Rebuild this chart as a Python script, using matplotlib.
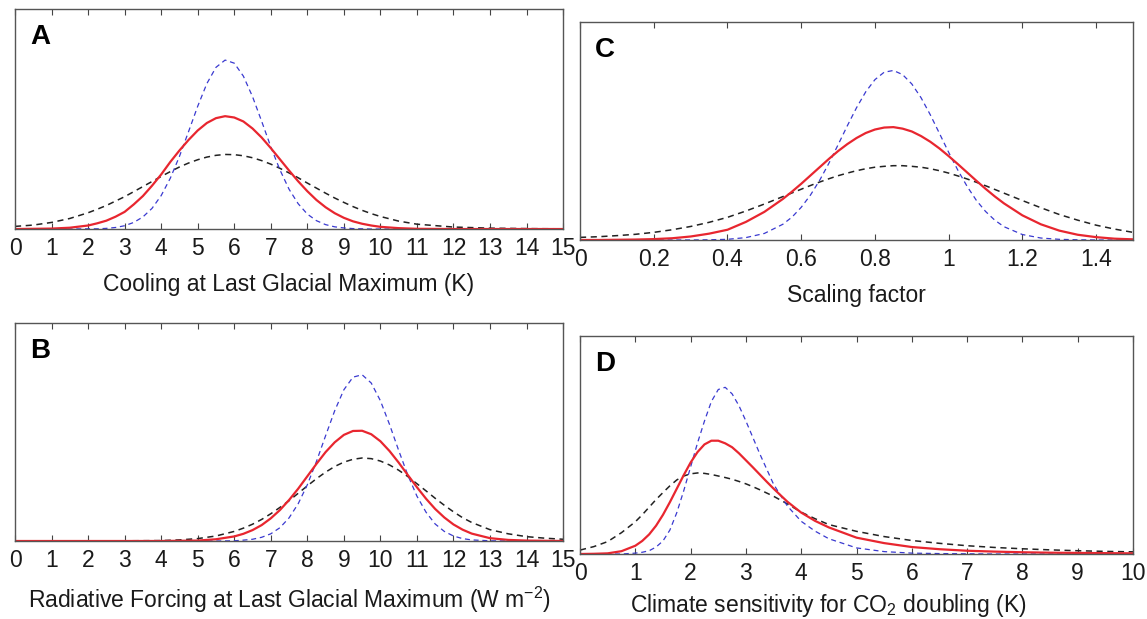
import matplotlib
matplotlib.use("Agg")
import matplotlib.pyplot as plt

plt.rcParams['font.family'] = ['Liberation Sans', 'DejaVu Sans']
plt.rcParams['mathtext.fontset'] = 'custom'
plt.rcParams['mathtext.rm'] = 'Liberation Sans'
plt.rcParams['mathtext.it'] = 'Liberation Sans:italic'

# Panel A: cooling at LGM (K)
xa = [0, 0.5, 1, 1.5, 2, 2.25, 2.5, 2.75, 3, 3.25, 3.5, 3.75, 4, 4.25, 4.5, 4.75, 5, 5.25,
      5.5, 5.75, 6, 6.25, 6.5, 6.75, 7, 7.25, 7.5, 7.75, 8, 8.25, 8.5, 8.75, 9, 9.25, 9.5,
      9.75, 10, 10.5, 11, 12, 13, 14, 15]
blue_a = [0, 0, 0, 0, 0.001, 0.001, 0.003, 0.007, 0.015, 0.030, 0.055, 0.094, 0.152, 0.231,
          0.330, 0.443, 0.558, 0.661, 0.735, 0.768, 0.754, 0.695, 0.602, 0.490, 0.374, 0.269,
          0.181, 0.115, 0.068, 0.038, 0.020, 0.010, 0.005, 0.002, 0.001, 0, 0, 0, 0, 0, 0,
          0, 0]
red_a = [0, 0.001, 0.002, 0.006, 0.016, 0.026, 0.038, 0.056, 0.078, 0.112, 0.150, 0.197,
         0.248, 0.305, 0.357, 0.405, 0.448, 0.482, 0.504, 0.513, 0.507, 0.489, 0.457, 0.416,
         0.368, 0.317, 0.266, 0.217, 0.172, 0.132, 0.099, 0.072, 0.051, 0.035, 0.024, 0.016,
         0.010, 0.004, 0.001, 0, 0, 0, 0]
black_a = [0.012, 0.018, 0.030, 0.048, 0.074, 0.090, 0.107, 0.127, 0.147, 0.170, 0.193, 0.216,
           0.239, 0.261, 0.282, 0.300, 0.315, 0.327, 0.335, 0.339, 0.338, 0.333, 0.324, 0.311,
           0.295, 0.276, 0.255, 0.233, 0.209, 0.186, 0.163, 0.141, 0.121, 0.102, 0.085, 0.070,
           0.057, 0.036, 0.022, 0.009, 0.004, 0.002, 0.001]

# Panel B: radiative forcing at LGM (W m-2)
xb = [0, 1, 2, 3, 4, 4.5, 5, 5.5, 6, 6.25, 6.5, 6.75, 7, 7.25, 7.5, 7.75, 8, 8.25, 8.5, 8.75,
      9, 9.25, 9.5, 9.75, 10, 10.25, 10.5, 10.75, 11, 11.25, 11.5, 11.75, 12, 12.25, 12.5,
      13, 13.5, 14, 14.5, 15]
blue_b = [0, 0, 0, 0, 0, 0, 0, 0, 0.001, 0.004, 0.008, 0.017, 0.033, 0.061, 0.106, 0.171,
          0.258, 0.365, 0.483, 0.598, 0.694, 0.752, 0.763, 0.725, 0.644, 0.535, 0.416, 0.303,
          0.206, 0.132, 0.078, 0.044, 0.023, 0.011, 0.005, 0.001, 0, 0, 0, 0]
red_b = [0, 0, 0, 0, 0, 0.001, 0.002, 0.008, 0.021, 0.033, 0.050, 0.073, 0.104, 0.142, 0.188,
         0.240, 0.297, 0.354, 0.408, 0.453, 0.487, 0.505, 0.506, 0.490, 0.458, 0.413, 0.360,
         0.303, 0.247, 0.194, 0.147, 0.108, 0.076, 0.052, 0.034, 0.013, 0.005, 0.002, 0.001, 0]
black_b = [0, 0, 0, 0.001, 0.002, 0.005, 0.011, 0.023, 0.044, 0.059, 0.077, 0.099, 0.125,
           0.154, 0.185, 0.219, 0.253, 0.286, 0.316, 0.342, 0.362, 0.375, 0.381, 0.378, 0.367,
           0.349, 0.325, 0.296, 0.263, 0.230, 0.196, 0.164, 0.134, 0.107, 0.085, 0.052, 0.033,
           0.020, 0.013, 0.008]

# Panel C: scaling factor
xc = [0, 0.05, 0.1, 0.15, 0.2, 0.25, 0.3, 0.35, 0.4, 0.45, 0.5, 0.55, 0.575, 0.6, 0.625, 0.65,
      0.675, 0.7, 0.725, 0.75, 0.775, 0.8, 0.825, 0.85, 0.875, 0.9, 0.925, 0.95, 0.975, 1.0,
      1.025, 1.05, 1.075, 1.1, 1.125, 1.15, 1.2, 1.25, 1.3, 1.35, 1.4, 1.45, 1.5]
blue_c = [0, 0, 0, 0, 0, 0, 0, 0.001, 0.003, 0.011, 0.030, 0.072, 0.105, 0.150, 0.206, 0.274,
          0.352, 0.437, 0.524, 0.607, 0.680, 0.736, 0.770, 0.778, 0.759, 0.716, 0.653, 0.575,
          0.489, 0.402, 0.320, 0.246, 0.182, 0.131, 0.091, 0.061, 0.025, 0.009, 0.003, 0.001,
          0, 0, 0]
red_c = [0, 0, 0.001, 0.002, 0.004, 0.008, 0.016, 0.029, 0.047, 0.083, 0.129, 0.188, 0.222,
         0.258, 0.296, 0.334, 0.372, 0.408, 0.440, 0.468, 0.491, 0.507, 0.516, 0.518, 0.511,
         0.498, 0.477, 0.451, 0.420, 0.385, 0.348, 0.310, 0.272, 0.235, 0.200, 0.168, 0.113,
         0.072, 0.043, 0.024, 0.013, 0.006, 0.003]
black_c = [0.012, 0.015, 0.020, 0.026, 0.035, 0.047, 0.062, 0.081, 0.104, 0.133, 0.165, 0.199,
           0.216, 0.233, 0.250, 0.266, 0.281, 0.295, 0.307, 0.318, 0.327, 0.334, 0.338, 0.341,
           0.341, 0.338, 0.334, 0.327, 0.318, 0.307, 0.294, 0.280, 0.265, 0.249, 0.232, 0.215,
           0.181, 0.148, 0.117, 0.091, 0.068, 0.050, 0.035]

# Panel D: climate sensitivity (K)
xd = [0, 0.25, 0.5, 0.75, 1, 1.125, 1.25, 1.375, 1.5, 1.625, 1.75, 1.875, 2, 2.125, 2.25,
      2.375, 2.5, 2.625, 2.75, 2.875, 3, 3.125, 3.25, 3.375, 3.5, 3.75, 4, 4.25, 4.5, 5, 5.5,
      6, 6.5, 7, 7.5, 8, 8.5, 9, 9.5, 10]
blue_d = [0, 0, 0, 0, 0.004, 0.008, 0.015, 0.032, 0.060, 0.110, 0.190, 0.290, 0.400, 0.510,
          0.610, 0.700, 0.755, 0.765, 0.735, 0.680, 0.610, 0.535, 0.460, 0.390, 0.320, 0.220,
          0.150, 0.105, 0.070, 0.028, 0.011, 0.004, 0.002, 0.001, 0, 0, 0, 0, 0, 0]
red_d = [0, 0.001, 0.003, 0.013, 0.038, 0.060, 0.090, 0.130, 0.180, 0.238, 0.300, 0.362, 0.420,
         0.468, 0.503, 0.520, 0.520, 0.508, 0.490, 0.462, 0.430, 0.398, 0.365, 0.332, 0.300,
         0.240, 0.190, 0.152, 0.122, 0.075, 0.050, 0.032, 0.022, 0.015, 0.011, 0.008, 0.006,
         0.005, 0.004, 0.003]
black_d = [0.018, 0.034, 0.057, 0.098, 0.148, 0.180, 0.215, 0.250, 0.282, 0.313, 0.340, 0.358,
           0.368, 0.372, 0.370, 0.365, 0.358, 0.351, 0.343, 0.333, 0.322, 0.309, 0.295, 0.280,
           0.265, 0.230, 0.192, 0.162, 0.135, 0.104, 0.080, 0.062, 0.049, 0.038, 0.030, 0.024,
           0.019, 0.015, 0.012, 0.010]

panels = [
    ("A", xa, black_a, blue_a, red_a, [0.0131, 0.630, 0.4778, 0.3554], 15,
     list(range(16)), [str(i) for i in range(16)], "Cooling at Last Glacial Maximum (K)", 9, 0.5),
    ("C", xc, black_c, blue_c, red_c, [0.5057, 0.6123, 0.4821, 0.352], 1.5,
     [0, 0.2, 0.4, 0.6, 0.8, 1.0, 1.2, 1.4], ["0", "0.2", "0.4", "0.6", "0.8", "1", "1.2", "1.4"],
     "Scaling factor", 9, 0.5),
    ("B", xb, black_b, blue_b, red_b, [0.0131, 0.126, 0.4778, 0.352], 15,
     list(range(16)), [str(i) for i in range(16)],
     "Radiative Forcing at Last Glacial Maximum (W m$^{-2}$)", 9, 0.5),
    ("D", xd, black_d, blue_d, red_d, [0.5057, 0.105, 0.4821, 0.352], 10,
     list(range(11)), [str(i) for i in range(11)],
     "Climate sensitivity for CO$_2$ doubling (K)", 5, 0.45),
]

fig = plt.figure(figsize=(11.47, 6.19), dpi=100)

for letter, x, yk, yb, yr, pos, xmax, ticks, labels, xlabel, lpad, lx in panels:
    ax = fig.add_axes(pos)
    ax.plot(x, yk, color="#222222", lw=1.1, ls=(0, (4, 3)))
    ax.plot(x, yb, color="#3a3ad0", lw=0.9, ls=(0, (4, 3)))
    ax.plot(x, yr, color="#e8262f", lw=1.6)
    ax.set_xlim(0, xmax)
    ax.set_ylim(0, 1)
    ax.set_yticks([])
    ax.set_xticks(ticks)
    ax.set_xticklabels(labels)
    ax.tick_params(axis="x", direction="in", top=True, length=4, width=0.8,
                   color="#444444", labelsize=16.5, pad=6, labelcolor="#1a1a1a")
    for s in ax.spines.values():
        s.set_color("#555555")
        s.set_linewidth(1.0)
    ax.set_xlabel(xlabel, fontsize=16.5, labelpad=lpad, color="#1a1a1a", x=lx)
    ax.text(0.027, 0.93, letter, transform=ax.transAxes, fontsize=20,
            fontweight="bold", ha="left", va="top")

fig.savefig("out.png", dpi=100)
